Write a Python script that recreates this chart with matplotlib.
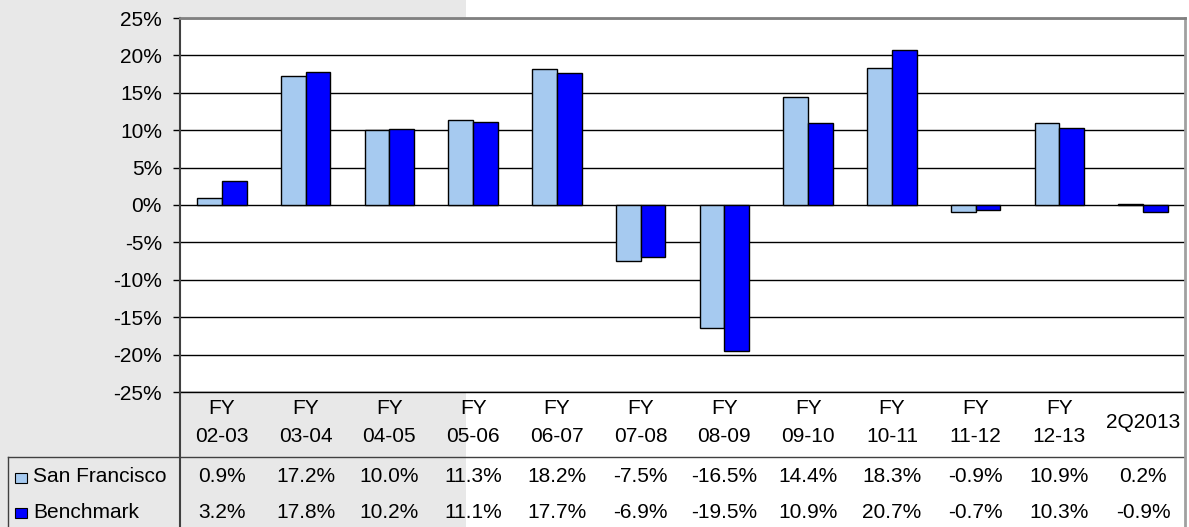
import numpy as np
import matplotlib
matplotlib.use('Agg')
import matplotlib.pyplot as plt
import matplotlib.transforms as mtransforms
from matplotlib.patches import Rectangle
from matplotlib.lines import Line2D

plt.rcParams['font.family'] = ['Liberation Sans', 'DejaVu Sans']

###################################################
# data
periods = ['FY\n02-03', 'FY\n03-04', 'FY\n04-05', 'FY\n05-06', 'FY\n06-07', 'FY\n07-08',
           'FY\n08-09', 'FY\n09-10', 'FY\n10-11', 'FY\n11-12', 'FY\n12-13', '2Q2013']
san_francisco = [0.9, 17.2, 10.0, 11.3, 18.2, -7.5, -16.5, 14.4, 18.3, -0.9, 10.9, 0.2]
benchmark = [3.2, 17.8, 10.2, 11.1, 17.7, -6.9, -19.5, 10.9, 20.7, -0.7, 10.3, -0.9]
series_names = ['San Francisco', 'Benchmark']
series_colors = ['#a6caf0', '#0000ff']
yticks = list(range(-25, 30, 5))

###################################################
W, H = 1189, 527
fs = 15
fig = plt.figure(figsize=(W/100, H/100), dpi=100)
fig.patch.set_facecolor('white')

def fx(px):
    return px/W

def fy(py):
    return 1 - py/H

# grey block behind the left part of the chart
fig.add_artist(Rectangle((0, 0), fx(466), 1, transform=fig.transFigure,
                         facecolor='#e8e8e8', edgecolor='none', zorder=-5))

ax = fig.add_axes([fx(180), fy(392), fx(1185) - fx(180), fy(18) - fy(392)])
ax.set_facecolor('white')

x = np.arange(len(periods))
w = 0.295
ax.bar(x - w/2, san_francisco, w, color=series_colors[0], edgecolor='black', lw=1, zorder=3)
ax.bar(x + w/2, benchmark, w, color=series_colors[1], edgecolor='black', lw=1, zorder=3)

ax.set_xlim(-0.5, len(periods) - 0.5)
ax.set_ylim(-25, 25)
ax.set_yticks(yticks)
ax.set_yticklabels(['%d%%' % t for t in yticks])
ax.set_xticks([])
ax.yaxis.grid(True, color='black', lw=1)
ax.set_axisbelow(True)
ax.tick_params(axis='y', length=5, width=1, color='black', pad=8, labelsize=fs)

ax.spines['left'].set_color('#404040')
ax.spines['left'].set_linewidth(1.5)
ax.spines['top'].set_color('#808080')
ax.spines['top'].set_linewidth(2)
ax.spines['right'].set_color('#a0a0a0')
ax.spines['right'].set_linewidth(2)
ax.spines['bottom'].set_color('black')
ax.spines['bottom'].set_linewidth(1)

###################################################
# data table under the chart
trans = mtransforms.blended_transform_factory(ax.transData, fig.transFigure)
for i, p in enumerate(periods):
    if '\n' in p:
        top, bot = p.split('\n')
        fig.text(i, fy(408), top, transform=trans, ha='center', va='center', fontsize=fs)
        fig.text(i, fy(437), bot, transform=trans, ha='center', va='center', fontsize=fs)
    else:
        fig.text(i, fy(422), p, transform=trans, ha='center', va='center', fontsize=fs)

row_y = [477, 512]
for vals, ry in zip([san_francisco, benchmark], row_y):
    for i, v in enumerate(vals):
        fig.text(i, fy(ry), '%.1f%%' % v, transform=trans, ha='center', va='center', fontsize=fs)

for name, col, ry in zip(series_names, series_colors, row_y):
    fig.add_artist(Rectangle((fx(15), fy(ry + 6)), fx(12), 10/H, transform=fig.transFigure,
                             facecolor=col, edgecolor='black', lw=0.8))
    fig.text(fx(33), fy(ry), name, ha='left', va='center', fontsize=fs)

# table grid lines
fig.add_artist(Line2D([fx(8), fx(1185)], [fy(457), fy(457)], transform=fig.transFigure,
                      color='#404040', lw=1))
fig.add_artist(Line2D([fx(8), fx(8)], [fy(457), 0], transform=fig.transFigure,
                      color='#404040', lw=1))
fig.add_artist(Line2D([fx(180), fx(180)], [fy(392), 0], transform=fig.transFigure,
                      color='#404040', lw=1.5))
fig.add_artist(Line2D([fx(1185), fx(1185)], [fy(392), 0], transform=fig.transFigure,
                      color='#a0a0a0', lw=2))

plt.savefig('out.png', dpi=100)
